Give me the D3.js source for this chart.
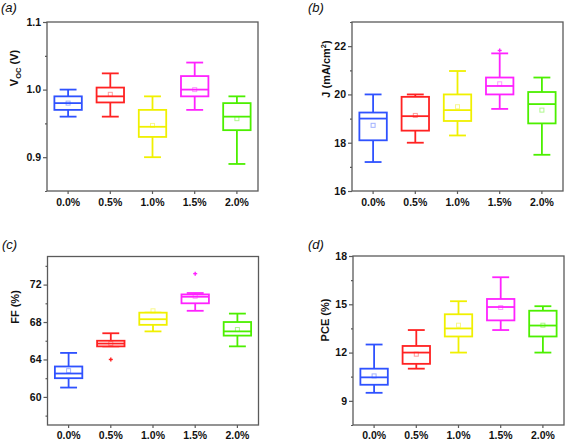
<!DOCTYPE html>
<html>
<head>
<meta charset="utf-8">
<script src="https://cdn.jsdelivr.net/npm/d3@7"></script>
<style>
  html, body { margin: 0; padding: 0; background: #fff; }
  svg { display: block; }
  text { font-family: "Liberation Sans", Arial, sans-serif; }
</style>
</head>
<body>
<svg id="chart" width="567" height="441"></svg>
<script>
// ---------- DATA ----------
const categories = ["0.0%", "0.5%", "1.0%", "1.5%", "2.0%"];
const boxColors = ["#2f52ff", "#ff2222", "#f0f000", "#ff22ff", "#4cef00"];
// each row: [min, q1, median, q3, max, mean]
const vocStats = [
  [0.96, 0.97, 0.98, 0.99, 1.00, 0.98],
  [0.96, 0.981, 0.99, 1.003, 1.024, 0.993],
  [0.90, 0.93, 0.945, 0.97, 0.99, 0.947],
  [0.97, 0.99, 1.00, 1.02, 1.04, 1.00],
  [0.89, 0.94, 0.96, 0.98, 0.99, 0.957]
];
const jStats = [
  [17.2, 18.1, 19.0, 19.25, 20.0, 18.72],
  [18.0, 18.5, 19.1, 19.9, 20.0, 19.13],
  [18.3, 18.9, 19.35, 20.0, 20.97, 19.49],
  [19.4, 20.0, 20.35, 20.7, 21.7, 20.44],
  [17.5, 18.8, 19.6, 20.1, 20.7, 19.35]
];
const ffStats = [
  [61.0, 62.0, 62.5, 63.25, 64.7, 62.8],
  [65.4, 65.4, 65.7, 66.0, 66.8, 65.7],
  [67.0, 67.7, 68.3, 69.0, 69.0, 69.2],
  [69.2, 70.0, 70.7, 70.95, 71.1, 70.75],
  [65.4, 66.55, 67.0, 68.0, 68.9, 67.2]
];
const pceStats = [
  [9.5, 10.0, 10.46, 11.0, 12.5, 10.55],
  [11.0, 11.3, 12.0, 12.41, 13.4, 11.9],
  [12.0, 13.0, 13.5, 14.38, 15.19, 13.7],
  [13.4, 14.0, 14.83, 15.33, 16.68, 14.8],
  [12.0, 13.0, 13.68, 14.6, 14.88, 13.7]
];
// outliers: [category index, value]
const vocOutliers = [];
const jOutliers = [[3, 21.82]];
const ffOutliers = [[1, 64.0], [3, 73.17]];
const pceOutliers = [];

const vocTicks = [0.9, 1.0, 1.1];
const vocMinor = [0.85, 0.95, 1.05];
const jTicks = [16, 18, 20, 22];
const jMinor = [17, 19, 21, 23];
const ffTicks = [60, 64, 68, 72];
const ffMinor = [58, 62, 66, 70, 74];
const pceTicks = [9, 12, 15, 18];
const pceMinor = [7.5, 10.5, 13.5, 16.5];

// ---------- DRAW ----------
const svg = d3.select("#chart");

const panels = [
  { letter: "(a)", lx: 1, ly: 12, left: 47, top: 22, bottom: 191, domain: [0.85, 1.1],
    stats: vocStats, outliers: vocOutliers, ticks: vocTicks, minor: vocMinor,
    fmt: d3.format(".1f"), label: "voc", labX: 18, labY: 68, xLabY: 16 },
  { letter: "(b)", lx: 308, ly: 12, left: 352, top: 22, bottom: 191, domain: [16, 23],
    stats: jStats, outliers: jOutliers, ticks: jTicks, minor: jMinor,
    fmt: d3.format("d"), label: "j", labX: 330, labY: 69, xLabY: 16 },
  { letter: "(c)", lx: 2, ly: 249, left: 47.5, top: 256.5, bottom: 425, domain: [57, 75],
    stats: ffStats, outliers: ffOutliers, ticks: ffTicks, minor: ffMinor,
    fmt: d3.format("d"), label: "ff", labX: 19, labY: 307, xLabY: 15 },
  { letter: "(d)", lx: 308, ly: 249, left: 353, top: 256, bottom: 425, domain: [7.5, 18],
    stats: pceStats, outliers: pceOutliers, ticks: pceTicks, minor: pceMinor,
    fmt: d3.format("d"), label: "pce", labX: 329, labY: 320, xLabY: 15 }
];

const plotW = 211;
const frameColor = "#5a5a5a";

panels.forEach(p => {
  const g = svg.append("g");
  const x = d3.scaleBand().domain(categories).range([p.left, p.left + plotW]).padding(0);
  const y = d3.scaleLinear().domain(p.domain).range([p.bottom, p.top]);
  const bw = x.bandwidth();
  const boxW = bw * 0.65;
  const capW = bw * 0.4;
  const cx = c => x(c) + bw / 2;

  // frame
  g.append("rect")
    .attr("x", p.left).attr("y", p.top)
    .attr("width", plotW).attr("height", p.bottom - p.top)
    .attr("fill", "none").attr("stroke", frameColor).attr("stroke-width", 1.3);

  // y axis major
  const yAxis = g.append("g").attr("transform", `translate(${p.left},0)`)
    .call(d3.axisLeft(y).tickValues(p.ticks).tickSize(4).tickPadding(2).tickFormat(p.fmt));
  yAxis.select(".domain").remove();
  yAxis.selectAll(".tick line").attr("stroke", frameColor).attr("stroke-width", 1.2);
  yAxis.selectAll(".tick text").attr("font-size", 10.5).attr("font-weight", "bold").attr("fill", "#111");

  // y axis minor
  const yMinor = g.append("g").attr("transform", `translate(${p.left},0)`)
    .call(d3.axisLeft(y).tickValues(p.minor).tickSize(2).tickFormat(""));
  yMinor.select(".domain").remove();
  yMinor.selectAll(".tick line").attr("stroke", frameColor).attr("stroke-width", 1.2);

  // x axis
  const xAxis = g.append("g").attr("transform", `translate(0,${p.bottom})`)
    .call(d3.axisBottom(x).tickSize(3).tickPadding(p.xLabY - 11));
  xAxis.select(".domain").remove();
  xAxis.selectAll(".tick line").attr("stroke", frameColor).attr("stroke-width", 1.2);
  xAxis.selectAll(".tick text").attr("font-size", 10.5).attr("font-weight", "bold").attr("fill", "#111");

  // boxes
  p.stats.forEach((s, i) => {
    const c = categories[i];
    const col = boxColors[i];
    const xc = cx(c);
    const [mn, q1, md, q3, mx, mean] = s;
    const bg = g.append("g").attr("stroke", col).attr("stroke-width", 1.8).attr("fill", "none");
    // whiskers
    bg.append("line").attr("x1", xc).attr("x2", xc).attr("y1", y(q3)).attr("y2", y(mx));
    bg.append("line").attr("x1", xc).attr("x2", xc).attr("y1", y(q1)).attr("y2", y(mn));
    bg.append("line").attr("x1", xc - capW / 2).attr("x2", xc + capW / 2).attr("y1", y(mx)).attr("y2", y(mx));
    bg.append("line").attr("x1", xc - capW / 2).attr("x2", xc + capW / 2).attr("y1", y(mn)).attr("y2", y(mn));
    // box
    bg.append("rect").attr("x", xc - boxW / 2).attr("y", y(q3))
      .attr("width", boxW).attr("height", Math.max(0.5, y(q1) - y(q3))).attr("fill", "#fff");
    bg.append("line").attr("x1", xc - boxW / 2).attr("x2", xc + boxW / 2).attr("y1", y(md)).attr("y2", y(md));
    // mean marker
    g.append("rect").attr("x", xc - 2).attr("y", y(mean) - 2).attr("width", 4).attr("height", 4)
      .attr("fill", "none").attr("stroke", col).attr("stroke-opacity", 0.45).attr("stroke-width", 1);
  });

  // outliers
  p.outliers.forEach(([i, v]) => {
    const xc = cx(categories[i]);
    const col = boxColors[i];
    const og = g.append("g").attr("stroke", col).attr("stroke-width", 1.4);
    og.append("line").attr("x1", xc - 2).attr("x2", xc + 2).attr("y1", y(v)).attr("y2", y(v));
    og.append("line").attr("x1", xc).attr("x2", xc).attr("y1", y(v) - 2).attr("y2", y(v) + 2);
  });

  // panel letter
  g.append("text").attr("x", p.lx).attr("y", p.ly).text(p.letter)
    .attr("font-size", 13).attr("font-style", "italic").attr("fill", "#111");

  // y label
  const lab = g.append("text")
    .attr("transform", `translate(${p.labX},${p.labY}) rotate(-90)`)
    .attr("text-anchor", "middle").attr("font-size", 11).attr("font-weight", "bold").attr("fill", "#111");
  if (p.label === "voc") {
    lab.append("tspan").text("V");
    lab.append("tspan").text("OC").attr("font-size", 7.5).attr("dy", 2.5);
    lab.append("tspan").text(" (V)").attr("dy", -2.5);
  } else if (p.label === "j") {
    lab.append("tspan").text("J (mA/cm");
    lab.append("tspan").text("2").attr("font-size", 7.5).attr("dy", -4);
    lab.append("tspan").text(")").attr("dy", 4);
  } else if (p.label === "ff") {
    lab.text("FF (%)");
  } else {
    lab.text("PCE (%)");
  }
});
</script>
</body>
</html>
